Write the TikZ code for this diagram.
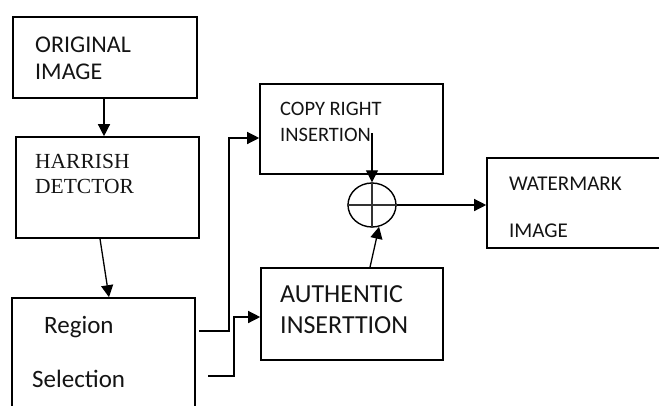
\documentclass[tikz,border=0pt]{standalone}
\usepackage{fontspec}
\setmainfont{Carlito}
\newfontfamily\timesfont{Liberation Serif}
\usetikzlibrary{arrows.meta,shapes.geometric,calc}

\begin{document}
\begin{tikzpicture}[x=1pt,y=-1pt,
  blk/.style={draw,line width=1.6pt,rectangle,inner sep=0pt},
  lbl/.style={anchor=base west,inner sep=0pt,text=black!92},
  link/.style={line width=1.3pt},
  arr/.style={link,-{Triangle[length=12pt,width=12pt]}}]

\useasboundingbox (0,0) rectangle (659,405);
\clip (0,0) rectangle (659,405);

% blocks
\node[blk,minimum width=184pt,minimum height=81pt]  (orig) at (105,57.5) {};
\node[blk,minimum width=183pt,minimum height=101pt] (harr) at (107.5,187.5) {};
\node[blk,minimum width=183pt,minimum height=132pt] (reg)  at (103.5,364) {};
\node[blk,minimum width=183pt,minimum height=90pt]  (cr)   at (351.5,129) {};
\node[blk,minimum width=182pt,minimum height=92pt]  (auth) at (352,314) {};
\node[blk,minimum width=193pt,minimum height=90pt]  (wm)   at (583.5,203) {};

% XOR junction
\node[draw,ellipse,line width=1.4pt,minimum width=48pt,minimum height=44pt,inner sep=0pt] (xor) at (372,205) {};
\draw[line width=1.1pt,black!80] (xor.north) -- (xor.south) (xor.west) -- (xor.east);

% labels
\node[lbl,font=\fontsize{24}{27}\selectfont] (t1) at (35,52) {ORIGINAL};
\node[lbl,font=\fontsize{24}{27}\selectfont] (t2) at (35,79) {IMAGE};
\node[lbl,font=\timesfont\fontsize{21.5}{25}\selectfont] (t3) at (35,168) {HARRISH};
\node[lbl,font=\timesfont\fontsize{21.5}{25}\selectfont] (t4) at (35,193) {DETCTOR};
\node[lbl,font=\fontsize{25}{28}\selectfont] (t5) at (44,333) {Region};
\node[lbl,font=\fontsize{25}{28}\selectfont] (t6) at (32,387) {Selection};
\node[lbl,font=\fontsize{20.5}{24}\selectfont] (t7) at (280,115) {COPY RIGHT};
\node[lbl,font=\fontsize{20.5}{24}\selectfont] (t8) at (280,141) {INSERTION};
\node[lbl,font=\fontsize{26}{30}\selectfont] (t9) at (280,302) {AUTHENTIC};
\node[lbl,font=\fontsize{26}{30}\selectfont] (t10) at (280,333) {INSERTTION};
\node[lbl,font=\fontsize{21}{25}\selectfont] (t11) at (509,190) {WATERMARK};
\node[lbl,font=\fontsize{21}{25}\selectfont] (t12) at (509,237) {IMAGE};

% free ends of connectors
\coordinate (r1) at (199,331);
\coordinate (r2) at (208,376);
\coordinate (c1) at (372,133);

% connectors
\draw[arr] ([xshift=-1pt]orig.south) -- ([xshift=-1pt]orig.south |- harr.north);
\draw[arr] ([xshift=-7.5pt]harr.south) -- ([xshift=5.5pt]reg.north);
\draw[arr] (r1) -- ++(30,0) |- ($(cr.west)+(0,9)$);
\draw[arr] (r2) -- ++(26,0) |- ($(auth.west)+(0,3)$);
\draw[arr] (c1) -- (xor.north);
\draw[arr] ([xshift=18pt]auth.north) -- (xor.-72);
\draw[arr] (xor.east) -- (wm.west |- xor.east);

\end{tikzpicture}
\end{document}
